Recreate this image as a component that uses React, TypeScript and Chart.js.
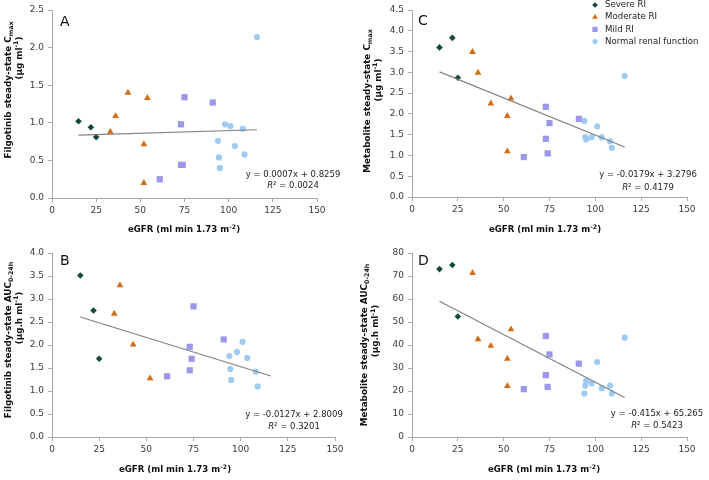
import React, { useEffect, useRef } from 'react';
import { Chart, registerables } from 'chart.js';
import { drawPoint } from 'chart.js/helpers';

Chart.register(...registerables);

const FONT = '"DejaVu Sans", Verdana, sans-serif';
Chart.defaults.font.family = FONT;

// ---------- data ----------
const groupLabels = ['Severe RI', 'Moderate RI', 'Mild RI', 'Normal renal function'];

const severeX = [15, 22, 25];
const moderateX = [33, 36, 43, 52, 52, 54];
const mildX = [61, 73, 73, 74, 75, 91];
const normalX = [94, 94.5, 95, 98, 101, 103.5, 108, 109, 116];

// Panel A: filgotinib Cmax
const severeA = [1.02, 0.94, 0.81];
const moderateA = [0.88, 1.09, 1.4, 0.715, 0.2, 1.33];
const mildA = [0.25, 0.98, 0.44, 0.44, 1.34, 1.27];
const normalA = [0.76, 0.54, 0.4, 0.98, 0.955, 0.69, 0.92, 0.58, 2.14];

// Panel B: filgotinib AUC0-24h
const severeB = [3.51, 2.75, 1.7];
const moderateB = [2.68, 3.3, 2.01, 1.275, null, null];
const mildB = [1.32, 1.96, 1.45, 1.7, 2.84, 2.12];
const normalB = [1.76, 1.48, 1.24, 1.85, 2.07, 1.72, 1.42, 1.1, null];

// Panel C: metabolite Cmax
const severeC = [3.6, 3.83, 2.87];
const moderateC = [3.49, 2.99, 2.25, 1.95, 1.1, 2.37];
const mildC = [0.96, 2.17, 1.4, 1.05, 1.78, 1.88];
const normalC = [1.83, 1.44, 1.385, 1.44, 1.7, 1.44, 1.34, 1.185, 2.91];

// Panel D: metabolite AUC0-24h
const severeD = [73.0, 74.8, 52.4];
const moderateD = [71.3, 42.5, 39.6, 34.0, 22.1, 46.8];
const mildD = [20.8, 43.9, 26.9, 21.8, 35.9, 31.9];
const normalD = [18.9, 22.3, 24.4, 23.3, 32.6, 21.2, 22.3, 18.9, 43.2];

// trend lines (A, B, C, D)
const trendXRange = [15, 116];
const trendSlopes = [0.0007, -0.0127, -0.0179, -0.415];
const trendIntercepts = [0.8259, 2.8009, 3.2796, 65.265];
const eqLabels = ['y = 0.0007x + 0.8259', 'y = -0.0127x + 2.8009', 'y = -0.0179x + 3.2796', 'y = -0.415x + 65.265'];
const r2Labels = ['0.0024', '0.3201', '0.4179', '0.5423'];

// axes
const xMin = 0;
const xMax = 150;
const xStep = 25;
const yMaxes = [2.5, 4.0, 4.5, 80];
const ySteps = [0.5, 0.5, 0.5, 10];
const yDecimals = [1, 1, 1, 0];
const panelLetters = ['A', 'B', 'C', 'D'];
const yTitleMain = ['Filgotinib steady-state ', 'Filgotinib steady-state ', 'Metabolite steady-state ', 'Metabolite steady-state '];
const yTitleParam = ['C', 'AUC', 'C', 'AUC'];
const yTitleSub = ['max', '0-24h', 'max', '0-24h'];
const yUnitMain = ['(µg ml', '(µg.h ml', '(µg ml', '(µg.h ml'];
const xTitleMain = 'eGFR (ml min 1.73 m';
const xTitleSup = '-2';

// ---------- styles ----------
const groupColors = ['#124a38', '#d26d16', '#9c97ea', '#9fcbf1'];
const groupStyles = ['rectRot', 'triangle', 'rect', 'circle'];
const groupRadius = [3.3, 3.9, 4.4, 3.1];
const TICK_COLOR = '#3a3a3a';
const AXIS_COLOR = '#a8a8a8';

type Seg = { t: string; size: number; bold?: boolean; italic?: boolean; dy?: number };

function fontStr(s: Seg) {
  return `${s.italic ? 'italic ' : ''}${s.bold ? 'bold ' : ''}${s.size}px ${FONT}`;
}

function drawRich(ctx: CanvasRenderingContext2D, segs: Seg[], x: number, y: number, rotate: boolean, color = '#111') {
  ctx.save();
  ctx.translate(x, y);
  if (rotate) ctx.rotate(-Math.PI / 2);
  const widths = segs.map((s) => {
    ctx.font = fontStr(s);
    return ctx.measureText(s.t).width;
  });
  const total = widths.reduce((a, b) => a + b, 0);
  let cx = -total / 2;
  ctx.textBaseline = 'middle';
  ctx.textAlign = 'left';
  ctx.fillStyle = color;
  segs.forEach((s, i) => {
    ctx.font = fontStr(s);
    ctx.fillText(s.t, cx, s.dy || 0);
    cx += widths[i];
  });
  ctx.restore();
}

// ---------- layout ----------
type Panel = {
  idx: number;
  left: number; top: number; w: number; h: number;
  area: { l: number; r: number; t: number; b: number };
  yT1: { x: number; cy: number };
  yT2: { x: number; cy: number };
  xT: { cx: number; y: number };
  letter: { x: number; y: number };
  eq: { cx: number; y1: number; y2: number };
  legend?: { mx: number; tx: number; y0: number; dy: number };
};

const panels: Panel[] = [
  {
    idx: 0, left: 0, top: 0, w: 354, h: 240,
    area: { l: 52, r: 317, t: 10, b: 198 },
    yT1: { x: 9, cy: 90 }, yT2: { x: 19.5, cy: 58 },
    xT: { cx: 184, y: 230 }, letter: { x: 60, y: 22 },
    eq: { cx: 293, y1: 175, y2: 186 },
  },
  {
    idx: 1, left: 0, top: 240, w: 354, h: 240,
    area: { l: 52, r: 335, t: 13, b: 197 },
    yT1: { x: 9, cy: 100 }, yT2: { x: 19.5, cy: 78 },
    xT: { cx: 175, y: 230 }, letter: { x: 60, y: 21 },
    eq: { cx: 294, y1: 175, y2: 187 },
  },
  {
    idx: 2, left: 354, top: 0, w: 355, h: 240,
    area: { l: 58, r: 333, t: 10, b: 197 },
    yT1: { x: 13.5, cy: 101 }, yT2: { x: 24.5, cy: 80 },
    xT: { cx: 191, y: 230 }, letter: { x: 64, y: 21 },
    eq: { cx: 294, y1: 175, y2: 188 },
    legend: { mx: 241, tx: 251, y0: 5, dy: 12.2 },
  },
  {
    idx: 3, left: 354, top: 240, w: 355, h: 240,
    area: { l: 58, r: 333, t: 13, b: 197 },
    yT1: { x: 11, cy: 105 }, yT2: { x: 22, cy: 91 },
    xT: { cx: 190, y: 230 }, letter: { x: 64, y: 21 },
    eq: { cx: 303, y1: 174, y2: 186 },
  },
];

const panelYs = [
  [severeA, moderateA, mildA, normalA],
  [severeB, moderateB, mildB, normalB],
  [severeC, moderateC, mildC, normalC],
  [severeD, moderateD, mildD, normalD],
];
const groupXs = [severeX, moderateX, mildX, normalX];

function zip(xs: number[], ys: (number | null)[]) {
  const out: { x: number; y: number }[] = [];
  xs.forEach((x, i) => {
    const y = ys[i];
    if (y !== null && y !== undefined) out.push({ x, y });
  });
  return out;
}

function makeConfig(p: Panel): any {
  const i = p.idx;
  const trend = trendXRange.map((x) => ({ x, y: trendSlopes[i] * x + trendIntercepts[i] }));
  const datasets: any[] = [
    {
      label: 'trend',
      data: trend,
      showLine: true,
      borderColor: '#808080',
      borderWidth: 1.1,
      pointRadius: 0,
      fill: false,
    },
  ];
  groupLabels.forEach((lab, g) => {
    datasets.push({
      label: lab,
      data: zip(groupXs[g], panelYs[i][g]),
      pointStyle: groupStyles[g],
      pointRadius: groupRadius[g],
      backgroundColor: groupColors[g],
      borderColor: groupColors[g],
      borderWidth: 0,
    });
  });

  const textPlugin = {
    id: 'texts' + i,
    afterDraw(chart: any) {
      const ctx: CanvasRenderingContext2D = chart.ctx;
      // y title
      drawRich(ctx, [
        { t: yTitleMain[i] + yTitleParam[i], size: 8.8, bold: true },
        { t: yTitleSub[i], size: 6.3, bold: true, dy: 2.5 },
      ], p.yT1.x, p.yT1.cy, true);
      drawRich(ctx, [
        { t: yUnitMain[i], size: 8.8, bold: true },
        { t: '-1', size: 6.3, bold: true, dy: -3 },
        { t: ')', size: 8.8, bold: true },
      ], p.yT2.x, p.yT2.cy, true);
      // x title
      drawRich(ctx, [
        { t: xTitleMain, size: 8.6, bold: true },
        { t: xTitleSup, size: 6.2, bold: true, dy: -3 },
        { t: ')', size: 8.6, bold: true },
      ], p.xT.cx, p.xT.y, false);
      // panel letter
      ctx.save();
      ctx.font = `14px ${FONT}`;
      ctx.fillStyle = '#111';
      ctx.textAlign = 'left';
      ctx.textBaseline = 'middle';
      ctx.fillText(panelLetters[i], p.letter.x, p.letter.y);
      ctx.restore();
      // equation
      drawRich(ctx, [{ t: eqLabels[i], size: 8.5 }], p.eq.cx, p.eq.y1, false, '#222');
      drawRich(ctx, [
        { t: 'R', size: 8.5, italic: true },
        { t: '² = ' + r2Labels[i], size: 8.5 },
      ], p.eq.cx, p.eq.y2, false, '#222');
      // legend
      if (p.legend) {
        const L = p.legend;
        groupLabels.forEach((lab, g) => {
          const y = L.y0 + g * L.dy;
          ctx.save();
          ctx.fillStyle = groupColors[g];
          ctx.strokeStyle = groupColors[g];
          drawPoint(ctx, { pointStyle: groupStyles[g], radius: groupRadius[g] * 0.85, rotation: 0, borderWidth: 0 } as any, L.mx, y);
          ctx.restore();
          ctx.save();
          ctx.font = `8.6px ${FONT}`;
          ctx.fillStyle = '#222';
          ctx.textAlign = 'left';
          ctx.textBaseline = 'middle';
          ctx.fillText(lab, L.tx, y);
          ctx.restore();
        });
      }
    },
  };

  return {
    type: 'scatter',
    data: { datasets },
    plugins: [textPlugin],
    options: {
      animation: false,
      responsive: false,
      maintainAspectRatio: false,
      layout: { padding: { top: p.area.t, right: p.w - p.area.r, left: 0, bottom: 0 } },
      plugins: { legend: { display: false }, tooltip: { enabled: false }, title: { display: false } },
      scales: {
        x: {
          type: 'linear',
          min: xMin,
          max: xMax,
          afterFit: (s: any) => { s.height = p.h - p.area.b; },
          ticks: { stepSize: xStep, font: { size: 9 }, color: TICK_COLOR, padding: 3, maxRotation: 0 },
          grid: { drawOnChartArea: false, drawTicks: true, tickLength: 4, color: AXIS_COLOR },
          border: { color: AXIS_COLOR, width: 1 },
        },
        y: {
          type: 'linear',
          min: 0,
          max: yMaxes[i],
          afterFit: (s: any) => { s.width = p.area.l; },
          ticks: {
            stepSize: ySteps[i],
            font: { size: 9 },
            color: TICK_COLOR,
            padding: 4,
            callback: (v: any) => Number(v).toFixed(yDecimals[i]),
          },
          grid: { drawOnChartArea: false, drawTicks: true, tickLength: 4, color: AXIS_COLOR },
          border: { color: AXIS_COLOR, width: 1 },
        },
      },
    },
  };
}

function PanelChart({ p }: { p: Panel }) {
  const ref = useRef<HTMLCanvasElement | null>(null);
  useEffect(() => {
    if (!ref.current) return;
    const chart = new Chart(ref.current, makeConfig(p));
    return () => chart.destroy();
  }, [p]);
  return (
    <canvas
      ref={ref}
      width={p.w}
      height={p.h}
      style={{ position: 'absolute', left: p.left, top: p.top, width: p.w, height: p.h, display: 'block' }}
    />
  );
}

export default function App() {
  return (
    <div style={{ position: 'absolute', left: 0, top: 0, width: 709, height: 480, background: '#fff', overflow: 'hidden' }}>
      {panels.map((p) => (
        <PanelChart key={p.idx} p={p} />
      ))}
    </div>
  );
}
